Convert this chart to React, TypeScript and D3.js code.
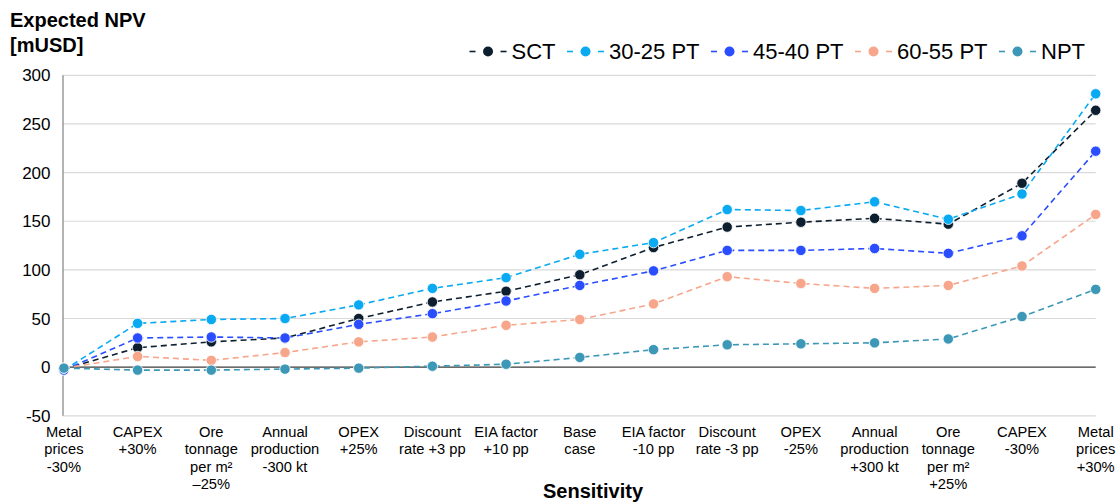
import React from "react";
import * as d3 from "d3";

// Sensitivity cases along the x axis (each entry is the label's lines)
const categories: string[][] = [
  ["Metal", "prices", "-30%"],
  ["CAPEX", "+30%"],
  ["Ore", "tonnage", "per m²", "–25%"],
  ["Annual", "production", "-300 kt"],
  ["OPEX", "+25%"],
  ["Discount", "rate +3 pp"],
  ["EIA factor", "+10 pp"],
  ["Base", "case"],
  ["EIA factor", "-10 pp"],
  ["Discount", "rate -3 pp"],
  ["OPEX", "-25%"],
  ["Annual", "production", "+300 kt"],
  ["Ore", "tonnage", "per m²", "+25%"],
  ["CAPEX", "-30%"],
  ["Metal", "prices", "+30%"],
];

// Expected NPV [mUSD] per scenario
const sct = [-2, 20, 26, 30, 50, 67, 78, 95, 123, 144, 149, 153, 147, 189, 264];
const pt3025 = [-3, 45, 49, 50, 64, 81, 92, 116, 128, 162, 161, 170, 152, 178, 281];
const pt4540 = [-3, 30, 31, 30, 44, 55, 68, 84, 99, 120, 120, 122, 117, 135, 222];
const pt6055 = [-1, 11, 7, 15, 26, 31, 43, 49, 65, 93, 86, 81, 84, 104, 157];
const npt = [-1, -3, -3, -2, -1, 1, 3, 10, 18, 23, 24, 25, 29, 52, 80];

const seriesNames = ["SCT", "30-25 PT", "45-40 PT", "60-55 PT", "NPT"];
const seriesValues = [sct, pt3025, pt4540, pt6055, npt];
const seriesColors = ["#0d1f2f", "#09aaf2", "#2a4dff", "#f7a68b", "#3c98b6"];

const yTicks = [-50, 0, 50, 100, 150, 200, 250, 300];

const FONT = "'Liberation Sans', Arial, Helvetica, sans-serif";
const W = 1120;
const H = 503;

function measure(text: string, size: number, weight = "normal"): number {
  const c = document.createElement("canvas").getContext("2d");
  if (!c) return text.length * size * 0.55;
  c.font = `${weight} ${size}px ${FONT}`;
  return c.measureText(text).width;
}

export default function App() {
  const x = d3
    .scalePoint<number>()
    .domain(d3.range(categories.length))
    .range([63.9, 1095.7])
    .padding(0);
  const y = d3.scaleLinear().domain([-50, 300]).range([415.8, 75.3]);

  const line = d3
    .line<number>()
    .x((_, i) => x(i) as number)
    .y((v) => y(v));

  const xLeft = 63;
  const xRight = x(categories.length - 1) as number;

  // Legend laid out right-aligned
  const legendSize = 22;
  const symW = 37;
  const textOff = 42;
  const itemGap = 11.5;
  const widths = seriesNames.map((n) => measure(n, legendSize));
  const legendRight = 1085;
  const totalW =
    widths.reduce((a, w) => a + textOff + w, 0) + itemGap * (seriesNames.length - 1);
  let cursor = legendRight - totalW;
  const legendItems = seriesNames.map((n, i) => {
    const x0 = cursor;
    cursor += textOff + widths[i] + itemGap;
    return { name: n, x0, color: seriesColors[i] };
  });
  const legendY = 51.5;

  const labelSize = 14.7;
  const labelLineH = 17.5;
  const labelTop = 436.5;

  return (
    <svg
      width={W}
      height={H}
      style={{ position: "absolute", left: 0, top: 0, background: "#fff" }}
      fontFamily={FONT}
    >
      {/* Title */}
      <text x={10} y={27} fontSize={20} fontWeight="bold" fill="#000">
        Expected NPV
      </text>
      <text x={10} y={52} fontSize={20} fontWeight="bold" fill="#000">
        [mUSD]
      </text>

      {/* Gridlines */}
      {yTicks.map((t) =>
        t === 0 ? null : (
          <line
            key={t}
            x1={xLeft}
            x2={xRight}
            y1={y(t)}
            y2={y(t)}
            stroke="#d9d9d9"
            strokeWidth={1.2}
          />
        )
      )}
      {/* Zero line */}
      <line x1={xLeft} x2={xRight} y1={y(0)} y2={y(0)} stroke="#3a3a3a" strokeWidth={1.4} />
      {/* Y axis */}
      <line x1={xLeft} x2={xLeft} y1={y(300)} y2={y(-50)} stroke="#8a8a8a" strokeWidth={1.3} />

      {/* Y tick labels */}
      {yTicks.map((t) => (
        <text
          key={t}
          x={50.5}
          y={y(t)}
          dy="0.36em"
          textAnchor="end"
          fontSize={17}
          fill="#000"
        >
          {t}
        </text>
      ))}

      {/* X category labels */}
      {categories.map((lines, i) => (
        <text
          key={i}
          x={x(i)}
          y={labelTop}
          textAnchor="middle"
          fontSize={labelSize}
          fill="#000"
        >
          {lines.map((ln, j) => (
            <tspan key={j} x={x(i)} y={labelTop + j * labelLineH}>
              {ln}
            </tspan>
          ))}
        </text>
      ))}

      {/* X axis title */}
      <text x={593} y={498} textAnchor="middle" fontSize={20} fontWeight="bold" fill="#000">
        Sensitivity
      </text>

      {/* Series */}
      {seriesValues.map((vals, s) => (
        <g key={seriesNames[s]}>
          <path
            d={line(vals) || ""}
            fill="none"
            stroke={seriesColors[s]}
            strokeWidth={1.6}
            strokeDasharray="6,4"
          />
          {vals.map((v, i) => (
            <circle
              key={i}
              cx={x(i)}
              cy={y(v)}
              r={5.2}
              fill={seriesColors[s]}
              stroke="#ffffff"
              strokeWidth={0.8}
            />
          ))}
        </g>
      ))}

      {/* Legend */}
      {legendItems.map((it) => (
        <g key={it.name}>
          <line
            x1={it.x0}
            x2={it.x0 + 6}
            y1={legendY}
            y2={legendY}
            stroke={it.color}
            strokeWidth={1.6}
          />
          <circle cx={it.x0 + symW / 2} cy={legendY} r={5} fill={it.color} />
          <line
            x1={it.x0 + symW - 6}
            x2={it.x0 + symW}
            y1={legendY}
            y2={legendY}
            stroke={it.color}
            strokeWidth={1.6}
          />
          <text
            x={it.x0 + textOff}
            y={legendY}
            dy="0.36em"
            fontSize={legendSize}
            fill="#000"
          >
            {it.name}
          </text>
        </g>
      ))}
    </svg>
  );
}
